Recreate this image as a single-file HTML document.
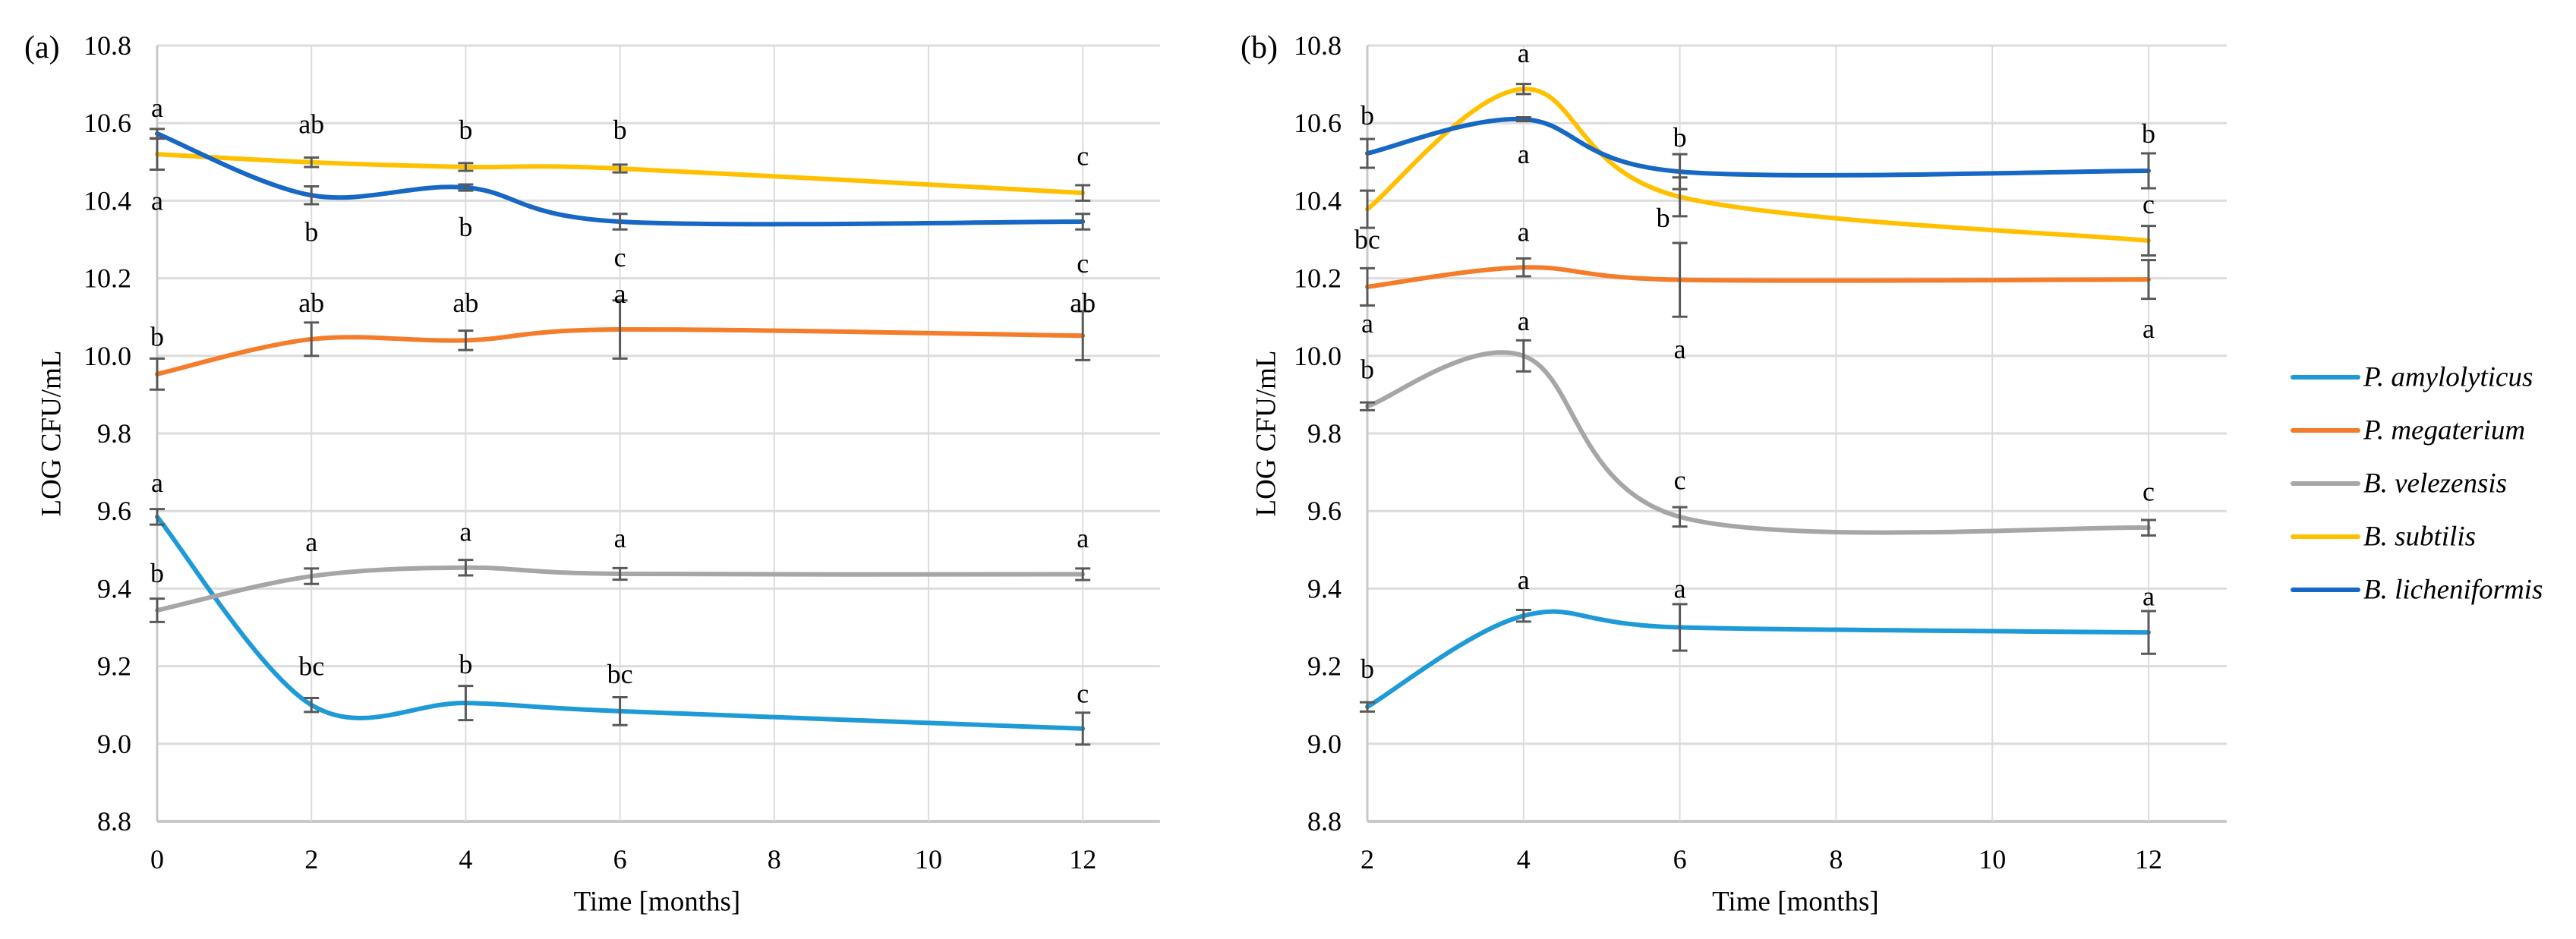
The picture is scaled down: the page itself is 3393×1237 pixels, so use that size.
<!DOCTYPE html>
<html><head><meta charset="utf-8"><style>
html,body{margin:0;padding:0;background:#fff;}
svg{display:block;font-family:"Liberation Serif",serif;}
</style></head><body>
<svg id="chart" width="3393" height="1237" viewBox="0 0 3393 1237" xmlns="http://www.w3.org/2000/svg"></svg>
<script>
// ---------- data ----------
const seriesNames = ["P. amylolyticus","P. megaterium","B. velezensis","B. subtilis","B. licheniformis"];
const seriesColors = ["#1E9AD6","#F47C2A","#A6A6A6","#FFC000","#1767C5"];
const yTicks = [8.8,9.0,9.2,9.4,9.6,9.8,10.0,10.2,10.4,10.6,10.8];
const yTickLabels = ["8.8","9.0","9.2","9.4","9.6","9.8","10.0","10.2","10.4","10.6","10.8"];

// panel (a)
const aMonths = [0,2,4,6,12];
const aXTicks = [0,2,4,6,8,10,12];
const aAmylo = [9.585,9.100,9.105,9.084,9.039];
const aMega  = [9.953,10.043,10.040,10.068,10.052];
const aVelez = [9.344,9.432,9.454,9.438,9.437];
const aSubt  = [10.520,10.499,10.487,10.483,10.420];
const aLich  = [10.573,10.414,10.434,10.346,10.346];
const aAmyloErr = [0.02,0.018,0.044,0.036,0.041];
const aMegaErr  = [0.04,0.043,0.025,0.075,0.063];
const aVelezErr = [0.03,0.02,0.02,0.015,0.015];
const aSubtErr  = [0.04,0.012,0.01,0.01,0.02];
const aLichErr  = [0.012,0.023,0.008,0.02,0.02];
const aLetterX = [0,0,0,0,0, 2,2,2,2,2, 4,4,4,4,4, 6,6,6,6,6, 12,12,12,12,12];
const aLetterY = [10.64,10.40,10.05,9.673,9.44, 10.597,10.32,10.137,9.52,9.20, 10.583,10.332,10.137,9.547,9.205, 10.583,10.254,10.16,9.53,9.18, 10.515,10.238,10.137,9.53,9.13];
const aLetterT = ["a","a","b","a","b", "ab","b","ab","a","bc", "b","b","ab","a","b", "b","c","a","a","bc", "c","c","ab","a","c"];

// panel (b)
const bMonths = [2,4,6,12];
const bXTicks = [2,4,6,8,10,12];
const bAmylo = [9.095,9.330,9.300,9.287];
const bMega  = [10.178,10.228,10.196,10.197];
const bVelez = [9.870,10.000,9.585,9.557];
const bSubt  = [10.378,10.688,10.410,10.297];
const bLich  = [10.522,10.610,10.475,10.477];
const bAmyloErr = [0.012,0.015,0.06,0.055];
const bMegaErr  = [0.048,0.023,0.095,0.05];
const bVelezErr = [0.01,0.04,0.025,0.02];
const bSubtErr  = [0.048,0.013,0.05,0.038];
const bLichErr  = [0.037,0.005,0.045,0.045];
const bLetterX = [2,2,2,2,2, 4,4,4,4,4, 6,6,6,6,6, 12,12,12,12,12];
const bLetterY = [10.62,10.30,10.084,9.965,9.193, 10.78,10.52,10.32,10.09,9.422, 10.563,10.356,10.017,9.68,9.40, 10.573,10.391,10.07,9.65,9.38];
const bLetterT = ["b","bc","a","b","b", "a","a","a","a","a", "b","b","a","c","a", "b","c","a","c","a"];
const bLetterDx = [0,0,0,0,0, 0,0,0,0,0, 0,-22,0,0,0, 0,0,0,0,0];

// ---------- drawing ----------
const NS = "http://www.w3.org/2000/svg";
const svg = document.getElementById("chart");
function mk(tag, attrs, parent){ const e=document.createElementNS(NS,tag); for(const k in attrs) e.setAttribute(k,attrs[k]); (parent||svg).appendChild(e); return e; }

function smoothPath(pts){
  let d = "M"+pts[0][0]+","+pts[0][1];
  for(let i=0;i<pts.length-1;i++){
    const p0=pts[i-1]||pts[i], p1=pts[i], p2=pts[i+1], p3=pts[i+2]||pts[i+1];
    const c1=[p1[0]+(p2[0]-p0[0])/6, p1[1]+(p2[1]-p0[1])/6];
    const c2=[p2[0]-(p3[0]-p1[0])/6, p2[1]-(p3[1]-p1[1])/6];
    d += " C"+c1[0]+","+c1[1]+" "+c2[0]+","+c2[1]+" "+p2[0]+","+p2[1];
  }
  return d;
}

function drawPanel(cfg){
  const g = mk("g",{});
  
  
  const x = v => cfg.x0 + (v - cfg.xmin) * cfg.pxPerMonth;
  const y = v => cfg.y0 - (v - 8.8) * 511;
  const right = x(cfg.xmax);
  // horizontal gridlines
  yTicks.forEach((t,i)=>{
    const ln = mk("line",{x1:cfg.x0,x2:right,y1:y(t),y2:y(t),stroke:i===0?"#c8c8c8":"#dcdcdc","stroke-width":i===0?4:3},g);
    
    
    const tx = mk("text",{x:cfg.x0-34,y:y(t),"text-anchor":"end","dominant-baseline":"central","font-size":36,fill:"#000"},g);
    tx.textContent = yTickLabels[i];
    
    
  });
  // vertical gridlines
  cfg.xTicks.forEach(t=>{
    const ln = mk("line",{x1:x(t),x2:x(t),y1:y(10.8),y2:y(8.8),stroke:t===cfg.xmin?"#c8c8c8":"#dcdcdc","stroke-width":t===cfg.xmin?3:2},g);
    
    
    const tx = mk("text",{x:x(t),y:1132,"text-anchor":"middle","dominant-baseline":"central","font-size":36,fill:"#000"},g);
    tx.textContent = String(t);
    
    
  });
  // series
  cfg.series.forEach((s,si)=>{
    const pts = cfg.months.map((m,i)=>[x(m), y(s[i])]);
    const p = mk("path",{d:smoothPath(pts),fill:"none",stroke:seriesColors[si],"stroke-width":6,"stroke-linecap":"round"},g);
    
    
  });
  // error bars
  cfg.series.forEach((s,si)=>{
    cfg.months.forEach((m,i)=>{
      const e = cfg.errs[si][i];
      const xx = x(m), yt = y(s[i]+e), yb = y(s[i]-e);
      const eg = mk("g",{stroke:"#595959","stroke-width":3},g);
      
      
      mk("line",{x1:xx,x2:xx,y1:yt,y2:yb},eg);
      mk("line",{x1:xx-10,x2:xx+10,y1:yt,y2:yt},eg);
      mk("line",{x1:xx-10,x2:xx+10,y1:yb,y2:yb},eg);
    });
  });
  // letters
  cfg.lx.forEach((lx,i)=>{
    const tx = mk("text",{x:x(lx)+(cfg.ldx?cfg.ldx[i]:0),y:y(cfg.ly[i]),"text-anchor":"middle","dominant-baseline":"central","font-size":36,fill:"#000"},g);
    tx.textContent = cfg.lt[i];
    
    
  });
  // axis titles
  const xt = mk("text",{x:(cfg.x0+right)/2 - 2,y:1188,"text-anchor":"middle","dominant-baseline":"central","font-size":37,fill:"#000"},g);
  xt.textContent = "Time [months]";
  
  
  const yt = mk("text",{x:0,y:0,"text-anchor":"middle","dominant-baseline":"central","font-size":37,fill:"#000",transform:"translate("+cfg.yTitleX+","+y(9.8)+") rotate(-90)"},g);
  yt.textContent = "LOG CFU/mL";
  
  
  const pl = mk("text",{x:cfg.panelX,y:63,"text-anchor":"start","dominant-baseline":"central","font-size":42,fill:"#000"},g);
  pl.textContent = cfg.panel;
  
  
}

drawPanel({name:"panel-a",panel:"(a)",panelX:32,x0:207,xmin:0,xmax:13,pxPerMonth:101.6,y0:1082,yTitleX:68,
  months:aMonths,xTicks:aXTicks,series:[aAmylo,aMega,aVelez,aSubt,aLich],
  errs:[aAmyloErr,aMegaErr,aVelezErr,aSubtErr,aLichErr],lx:aLetterX,ly:aLetterY,lt:aLetterT});
drawPanel({name:"panel-b",panel:"(b)",panelX:1634,x0:1801,xmin:2,xmax:13,pxPerMonth:102.9,y0:1082,yTitleX:1668,
  months:bMonths,xTicks:bXTicks,series:[bAmylo,bMega,bVelez,bSubt,bLich],
  errs:[bAmyloErr,bMegaErr,bVelezErr,bSubtErr,bLichErr],lx:bLetterX,ly:bLetterY,lt:bLetterT,ldx:bLetterDx});

// legend
const lg = mk("g",{});


seriesNames.forEach((n,i)=>{
  const yy = 497 + i*70;
  const ln = mk("line",{x1:3020,x2:3106,y1:yy,y2:yy,stroke:seriesColors[i],"stroke-width":6,"stroke-linecap":"round"},lg);
  
  
  const t = mk("text",{x:3113,y:yy,"dominant-baseline":"central","font-size":37,"font-style":"italic",fill:"#000"},lg);
  t.textContent = n;
  
  
});
</script>
</body></html>
